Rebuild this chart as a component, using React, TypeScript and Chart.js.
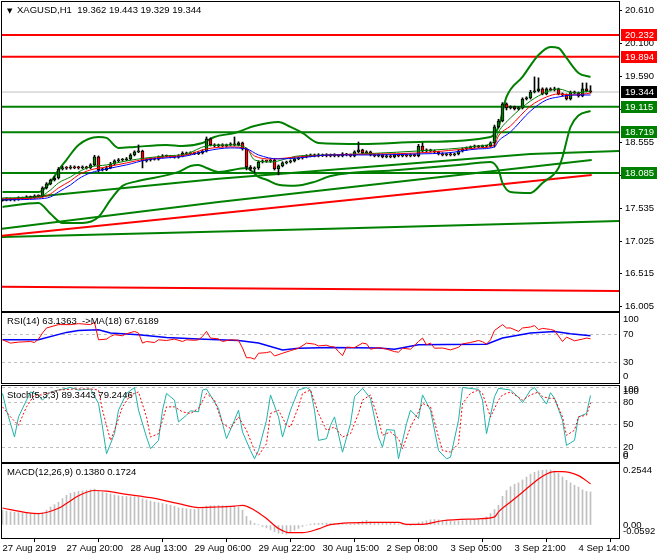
import React, { useEffect, useRef } from "react";
import { Chart, registerables } from "chart.js";

Chart.register(...registerables);

const FONT_FAMILY = '"Liberation Sans", Arial, sans-serif';
const FONT_SIZE = 9.5;
Chart.defaults.font.family = FONT_FAMILY;
Chart.defaults.font.size = FONT_SIZE;
Chart.defaults.color = "#000";

const X_MIN = -0.125;
const X_MAX = 154.125;

const GREEN = "#008000";
const RED = "#FF0000";
const BLUE = "#0000FF";
const SILVER = "#C0C0C0";
const TEAL = "#20B2AA";

// ---------- time axis ----------
const timeTickBars = [0, 16, 32, 48, 64, 80, 96, 112, 128, 144];
const timeTickLabels = ["27 Aug 2019", "27 Aug 20:00", "28 Aug 13:00", "29 Aug 06:00", "29 Aug 22:00", "30 Aug 15:00", "2 Sep 08:00", "3 Sep 05:00", "3 Sep 21:00", "4 Sep 14:00"];

// ---------- price axis ----------
const PRICE_MIN = 15.937;
const PRICE_MAX = 20.745;
const priceTicks = [20.61, 20.1, 19.59, 19.075, 18.555, 18.045, 17.535, 17.025, 16.515, 16.005];

const resistanceLevels = [20.232, 19.894];
const supportLevels = [19.115, 18.719, 18.085];
const lastPrice = 19.344;

// ---------- candles (XAGUSD H1) ----------
const opens = [
  17.660, 17.665, 17.681, 17.665, 17.672, 17.696, 17.690, 17.712, 17.700, 17.727,
  17.725, 17.852, 17.914, 17.976, 18.007, 18.147, 18.163, 18.160, 18.178, 18.165,
  18.163, 18.175, 18.163, 18.210, 18.334, 18.132, 18.135, 18.163, 18.225, 18.272,
  18.287, 18.290, 18.303, 18.365, 18.412, 18.427, 18.272, 18.287, 18.303, 18.300,
  18.334, 18.350, 18.345, 18.334, 18.330, 18.350, 18.396, 18.381, 18.396, 18.385,
  18.396, 18.427, 18.614, 18.521, 18.505, 18.521, 18.505, 18.521, 18.536, 18.521,
  18.552, 18.458, 18.178, 18.147, 18.163, 18.256, 18.272, 18.268, 18.287, 18.147,
  18.194, 18.241, 18.256, 18.272, 18.303, 18.318, 18.334, 18.350, 18.365, 18.350,
  18.365, 18.352, 18.365, 18.350, 18.365, 18.350, 18.381, 18.365, 18.350, 18.412,
  18.443, 18.396, 18.412, 18.365, 18.350, 18.365, 18.334, 18.350, 18.334, 18.365,
  18.350, 18.365, 18.350, 18.365, 18.355, 18.505, 18.427, 18.443, 18.427, 18.412,
  18.381, 18.365, 18.381, 18.365, 18.381, 18.427, 18.458, 18.474, 18.490, 18.505,
  18.490, 18.505, 18.500, 18.552, 18.801, 18.894, 19.159, 19.096, 19.112, 19.081,
  19.096, 19.236, 19.252, 19.345, 19.361, 19.392, 19.314, 19.392, 19.376, 19.392,
  19.314, 19.299, 19.236, 19.345, 19.330, 19.283, 19.392, 19.362,
];
const highs = [
  17.685, 17.700, 17.695, 17.690, 17.715, 17.710, 17.730, 17.725, 17.745, 17.745,
  17.870, 17.935, 17.990, 18.030, 18.170, 18.190, 18.185, 18.200, 18.195, 18.190,
  18.195, 18.190, 18.230, 18.360, 18.350, 18.160, 18.190, 18.250, 18.290, 18.310,
  18.310, 18.325, 18.385, 18.430, 18.521, 18.440, 18.310, 18.325, 18.320, 18.350,
  18.370, 18.365, 18.360, 18.350, 18.370, 18.415, 18.410, 18.415, 18.410, 18.415,
  18.445, 18.645, 18.630, 18.540, 18.535, 18.540, 18.535, 18.555, 18.645, 18.570,
  18.565, 18.470, 18.200, 18.180, 18.275, 18.290, 18.285, 18.300, 18.300, 18.210,
  18.260, 18.270, 18.290, 18.320, 18.335, 18.350, 18.370, 18.380, 18.380, 18.385,
  18.380, 18.385, 18.380, 18.385, 18.375, 18.400, 18.390, 18.380, 18.430, 18.567,
  18.455, 18.430, 18.425, 18.380, 18.385, 18.380, 18.370, 18.365, 18.380, 18.380,
  18.380, 18.375, 18.380, 18.375, 18.530, 18.550, 18.460, 18.455, 18.440, 18.425,
  18.400, 18.395, 18.400, 18.395, 18.440, 18.475, 18.490, 18.505, 18.520, 18.515,
  18.520, 18.515, 18.570, 18.830, 18.920, 19.180, 19.175, 19.130, 19.125, 19.115,
  19.255, 19.270, 19.370, 19.580, 19.565, 19.410, 19.410, 19.410, 19.420, 19.405,
  19.330, 19.315, 19.360, 19.360, 19.345, 19.485, 19.485, 19.443,
];
const lows = [
  17.645, 17.650, 17.650, 17.648, 17.660, 17.675, 17.680, 17.685, 17.690, 17.710,
  17.710, 17.835, 17.900, 17.960, 17.990, 18.130, 18.140, 18.145, 18.150, 18.145,
  18.150, 18.145, 18.150, 18.195, 18.100, 18.115, 18.120, 18.150, 18.210, 18.255,
  18.270, 18.275, 18.290, 18.350, 18.400, 18.163, 18.255, 18.270, 18.285, 18.285,
  18.320, 18.330, 18.320, 18.315, 18.315, 18.335, 18.365, 18.370, 18.370, 18.370,
  18.380, 18.410, 18.505, 18.490, 18.490, 18.490, 18.490, 18.505, 18.505, 18.505,
  18.440, 18.132, 18.120, 18.086, 18.140, 18.240, 18.250, 18.250, 18.130, 18.055,
  18.180, 18.225, 18.240, 18.255, 18.290, 18.300, 18.320, 18.335, 18.335, 18.335,
  18.340, 18.335, 18.335, 18.335, 18.335, 18.335, 18.350, 18.335, 18.335, 18.400,
  18.380, 18.380, 18.350, 18.335, 18.335, 18.320, 18.320, 18.320, 18.320, 18.335,
  18.335, 18.335, 18.335, 18.340, 18.335, 18.410, 18.410, 18.410, 18.395, 18.365,
  18.350, 18.350, 18.350, 18.350, 18.365, 18.410, 18.440, 18.460, 18.475, 18.475,
  18.475, 18.485, 18.485, 18.490, 18.785, 18.880, 19.065, 19.080, 19.065, 19.065,
  19.080, 19.220, 19.235, 19.330, 19.345, 19.300, 19.300, 19.360, 19.360, 19.300,
  19.280, 19.221, 19.220, 19.315, 19.265, 19.270, 19.345, 19.329,
];
const closes = [
  17.665, 17.681, 17.665, 17.672, 17.696, 17.690, 17.712, 17.700, 17.727, 17.725,
  17.852, 17.914, 17.976, 18.007, 18.147, 18.163, 18.160, 18.178, 18.165, 18.163,
  18.175, 18.163, 18.210, 18.334, 18.132, 18.135, 18.163, 18.225, 18.272, 18.287,
  18.290, 18.303, 18.365, 18.412, 18.427, 18.272, 18.287, 18.303, 18.300, 18.334,
  18.350, 18.345, 18.334, 18.330, 18.350, 18.396, 18.381, 18.396, 18.385, 18.396,
  18.427, 18.614, 18.521, 18.505, 18.521, 18.505, 18.521, 18.536, 18.521, 18.552,
  18.458, 18.178, 18.147, 18.163, 18.256, 18.272, 18.268, 18.287, 18.147, 18.194,
  18.241, 18.256, 18.272, 18.303, 18.318, 18.334, 18.350, 18.365, 18.350, 18.365,
  18.352, 18.365, 18.350, 18.365, 18.350, 18.381, 18.365, 18.350, 18.412, 18.443,
  18.396, 18.412, 18.365, 18.350, 18.365, 18.334, 18.350, 18.334, 18.365, 18.350,
  18.365, 18.350, 18.365, 18.355, 18.505, 18.427, 18.443, 18.427, 18.412, 18.381,
  18.365, 18.381, 18.365, 18.381, 18.427, 18.458, 18.474, 18.490, 18.505, 18.490,
  18.505, 18.500, 18.552, 18.801, 18.894, 19.159, 19.096, 19.112, 19.081, 19.096,
  19.236, 19.252, 19.345, 19.361, 19.392, 19.314, 19.392, 19.376, 19.392, 19.314,
  19.299, 19.236, 19.345, 19.330, 19.283, 19.392, 19.362, 19.344,
];

// ---------- overlays: [bar, price] ----------
const bbUpper = [[0, 17.787], [9, 17.787], [12, 17.945], [14, 18.13], [16, 18.29], [19, 18.521], [24, 18.645], [26, 18.63], [29, 18.474], [33, 18.49], [41, 18.521], [45, 18.505], [50, 18.552], [53, 18.645], [58, 18.707], [63, 18.816], [69, 18.879], [72, 18.801], [75, 18.707], [79, 18.552], [90, 18.536], [104, 18.567], [122, 18.645], [124, 18.801], [126, 19.267], [130, 19.579], [134, 19.921], [137, 20.046], [139, 20.03], [141, 19.874], [144, 19.641], [147, 19.579]];
const bbLower = [[0, 17.557], [9, 17.619], [12, 17.45], [15, 17.308], [20, 17.308], [24, 17.401], [27, 17.666], [30, 17.884], [33, 17.946], [44, 18.101], [47, 18.194], [49, 18.21], [51, 18.163], [54, 18.101], [61, 18.163], [64, 18.023], [66, 17.98], [69, 17.9], [73, 17.884], [78, 17.946], [82, 18.039], [99, 18.132], [114, 18.21], [122, 18.256], [124, 18.132], [125, 17.93], [127, 17.79], [132, 17.775], [135, 17.93], [139, 18.163], [140, 18.334], [142, 18.8], [144, 18.98], [147, 19.049]];
const maFast = [[0, 17.697], [9, 17.712], [12, 17.821], [14, 17.93], [17, 18.023], [19, 18.101], [22, 18.179], [26, 18.21], [31, 18.272], [36, 18.319], [41, 18.35], [46, 18.381], [51, 18.505], [57, 18.521], [61, 18.474], [63, 18.288], [67, 18.256], [74, 18.35], [82, 18.365], [104, 18.428], [119, 18.505], [123, 18.583], [124, 18.723], [127, 18.941], [132, 19.205], [136, 19.345], [139, 19.392], [143, 19.329], [147, 19.361]];
const maMid = [[0, 17.681], [9, 17.697], [12, 17.759], [14, 17.852], [17, 17.962], [19, 18.055], [22, 18.132], [26, 18.179], [31, 18.241], [36, 18.303], [41, 18.334], [46, 18.365], [51, 18.459], [57, 18.49], [61, 18.459], [63, 18.35], [67, 18.303], [74, 18.334], [82, 18.365], [104, 18.396], [119, 18.474], [123, 18.521], [124, 18.661], [127, 18.816], [132, 19.127], [136, 19.267], [139, 19.314], [143, 19.298], [147, 19.329]];
const maSlow = [[0, 17.666], [9, 17.681], [12, 17.712], [14, 17.79], [17, 17.899], [19, 17.993], [22, 18.086], [26, 18.148], [31, 18.21], [36, 18.288], [41, 18.319], [46, 18.35], [51, 18.428], [57, 18.474], [61, 18.459], [64, 18.365], [69, 18.303], [74, 18.319], [82, 18.365], [92, 18.365], [104, 18.381], [111, 18.396], [119, 18.459], [123, 18.49], [124, 18.583], [127, 18.723], [132, 19.049], [136, 19.221], [139, 19.267], [143, 19.298], [147, 19.298]];
const trendGreenA = [[X_MIN, 17.666], [54, 17.993], [132, 18.381], [X_MAX, 18.428]];
const trendGreenB = [[X_MIN, 17.215], [54, 17.634], [147.3, 18.288]];
const trendRedA = [[X_MIN, 17.106], [147.3, 18.055]];
const trendGreenC = [[X_MIN, 17.09], [82, 17.215], [X_MAX, 17.339]];
const trendRedB = [[X_MIN, 16.315], [X_MAX, 16.25]];

// ---------- RSI ----------
const rsiLine = [[0, 61.7], [2, 57], [4, 58.4], [7, 59.3], [8, 57.8], [9, 62.7], [10, 71.4], [11, 78.6], [14, 83.4], [17, 83.4], [19, 84.8], [22, 83.4], [23, 86.7], [24, 61.7], [26, 62.7], [27, 66.5], [28, 69], [30, 67.5], [31, 70.4], [33, 73.7], [34, 71.4], [35, 57], [36, 59.3], [38, 57.8], [39, 61.7], [41, 60.7], [43, 62.7], [45, 59.3], [46, 61.7], [48, 61], [49, 61.7], [50, 66.5], [51, 73.7], [52, 64.2], [54, 63], [55, 59.3], [57, 61.7], [59, 61], [60, 50], [61, 36], [62, 36.2], [63, 34], [64, 42.5], [66, 43.4], [67, 44.8], [68, 38.6], [70, 42.5], [72, 46.2], [74, 49.7], [76, 57], [78, 55.5], [79, 53], [81, 54], [82, 52], [83, 51.5], [84, 44.8], [85, 39], [86, 51.2], [88, 50.5], [90, 57], [91, 56], [92, 48.3], [94, 50.6], [96, 48.5], [98, 44.8], [99, 44], [100, 49.7], [102, 48.3], [104, 59.3], [105, 64.2], [106, 54.5], [107, 57], [108, 49.7], [110, 50], [112, 47.3], [114, 51], [115, 55.9], [117, 57.8], [119, 60.7], [120, 59], [121, 55.5], [122, 61.7], [123, 75.1], [125, 83.4], [126, 78.6], [127, 78.6], [129, 73.7], [130, 78.6], [132, 80], [133, 82], [134, 76.2], [135, 78], [137, 76.5], [138, 75], [140, 59.3], [141, 65.6], [143, 60.3], [145, 62.7], [146, 64.2], [147, 63.1]];
const rsiMa = [[0, 61.7], [9, 61.7], [16, 72.3], [19, 75.1], [24, 76.2], [27, 71.4], [34, 69], [41, 65], [49, 62.7], [59, 60.7], [64, 57], [70, 47.3], [74, 49.7], [82, 50.6], [94, 50], [98, 48.3], [104, 54.5], [111, 55], [121, 55.5], [125, 64.2], [132, 71.4], [138, 73.7], [142, 70.4], [147, 67.6]];
const rsiTickValues = [9, 30, 70, 91];
const rsiTickLabels = ["0", "30", "70", "100"];
const rsiLevels = [30, 70];

// ---------- Stochastic ----------
const stochMain = [[0, 92], [1, 69.6], [3, 33.5], [4, 60.5], [6, 83], [7, 94], [9, 90], [10, 83], [12, 94], [14, 96.6], [17, 100], [19, 96.6], [22, 98], [24, 78.6], [25, 47], [26, 11], [28, 38], [29, 69.6], [31, 92], [33, 100], [34, 69.6], [36, 33.5], [37, 17.8], [39, 29], [40, 69.6], [41, 92], [43, 83], [44, 53.8], [46, 62.8], [47, 68.7], [49, 67.3], [50, 96.6], [51, 98], [54, 71.9], [56, 31.3], [58, 56], [59, 69.6], [60, 40.3], [62, 15.5], [63, 4.3], [64, 15.5], [66, 56], [67, 90], [69, 60.5], [70, 33.5], [72, 69.6], [74, 96.6], [76, 100], [77, 96.6], [78, 69.6], [79, 29], [81, 31.3], [82, 49.3], [83, 60.5], [85, 13.2], [87, 51.6], [88, 87.6], [90, 98.9], [92, 85.4], [94, 33.5], [95, 20], [96, 43.5], [98, 42.6], [99, 4.3], [101, 51.6], [102, 69.6], [104, 58.4], [105, 90], [107, 69.6], [109, 15.5], [111, 4.3], [112, 6.5], [114, 56], [115, 100], [119, 97.5], [120, 83], [121, 38], [123, 87.6], [124, 98.9], [127, 96.6], [129, 86.8], [130, 79.5], [132, 96.6], [133, 100], [134, 92], [136, 77.7], [137, 93], [138, 85.4], [140, 56], [141, 22.3], [143, 29], [144, 60.5], [146, 65.1], [147, 89.3]];
const stochSignal = [[0, 74], [2, 60.5], [4, 49.3], [6, 74], [8, 90], [10, 90], [14, 96.6], [18, 98], [22, 98], [24, 96.6], [25, 69.6], [27, 29], [28, 42.6], [30, 74], [32, 90], [34, 94], [36, 60.5], [37, 33.5], [39, 38], [41, 74], [43, 74], [45, 67.3], [47, 65.1], [49, 71.9], [51, 92], [53, 83], [55, 51.6], [57, 45], [59, 60.5], [61, 42.6], [63, 15.5], [64, 8.8], [66, 24.5], [67, 65.1], [69, 69.6], [71, 49.3], [72, 47], [74, 74], [75, 92], [77, 96.6], [79, 65.1], [81, 42.6], [83, 47], [85, 33.5], [87, 38], [89, 65.1], [90, 83], [92, 90], [94, 56], [95, 35.8], [97, 40.3], [99, 31.3], [100, 17.8], [102, 47], [104, 67.3], [105, 78.6], [107, 74], [109, 33.5], [110, 15.5], [112, 13.3], [114, 24.5], [115, 78.6], [117, 92], [119, 96.6], [120, 92], [122, 60.5], [124, 83], [125, 90], [127, 94], [129, 86.8], [130, 83], [132, 90], [134, 94], [135, 87.6], [137, 85.4], [138, 85.4], [140, 60.5], [141, 35.8], [143, 42.6], [144, 60.5], [146, 62.8], [147, 79.2]];
const stochTickValues = [7, 10, 20, 50, 80, 95, 98, 100];
const stochTickLabels = ["0", "0", "20", "50", "80", "100", "100", ""];
const stochLevels = [20, 50, 80, 100];

// ---------- MACD ----------
const macdHist = [
  0.062, 0.058, 0.055, 0.053, 0.052, 0.050, 0.050, 0.049, 0.049, 0.050,
  0.052, 0.062, 0.075, 0.085, 0.095, 0.110, 0.124, 0.132, 0.137, 0.140,
  0.142, 0.145, 0.147, 0.150, 0.140, 0.136, 0.133, 0.130, 0.126, 0.122,
  0.120, 0.119, 0.118, 0.118, 0.117, 0.110, 0.105, 0.100, 0.096, 0.093,
  0.090, 0.086, 0.083, 0.078, 0.072, 0.070, 0.068, 0.066, 0.065, 0.066,
  0.068, 0.079, 0.080, 0.081, 0.082, 0.081, 0.080, 0.079, 0.078, 0.075,
  0.062, 0.036, 0.018, 0.007, 0.002, -0.006, -0.012, -0.020, -0.028, -0.034,
  -0.036, -0.038, -0.030, -0.022, -0.014, -0.006, 0.000, 0.004, 0.006, 0.007,
  0.007, 0.008, 0.007, 0.007, 0.005, 0.002, 0.002, 0.003, 0.004, 0.012,
  0.016, 0.020, 0.014, 0.012, 0.011, 0.010, 0.010, 0.009, 0.008, 0.004,
  0.001, 0.000, -0.001, 0.000, 0.010, 0.014, 0.018, 0.022, 0.023, 0.022,
  0.020, 0.017, 0.015, 0.015, 0.017, 0.018, 0.020, 0.022, 0.023, 0.024,
  0.028, 0.034, 0.048, 0.065, 0.082, 0.120, 0.144, 0.160, 0.170, 0.176,
  0.188, 0.200, 0.212, 0.220, 0.226, 0.228, 0.230, 0.230, 0.225, 0.215,
  0.200, 0.186, 0.176, 0.166, 0.158, 0.147, 0.140, 0.138,
];
const macdSignal = [[0, 0.071], [6, 0.052], [9, 0.048], [14, 0.07], [16, 0.09], [19, 0.122], [23, 0.144], [26, 0.141], [31, 0.128], [37, 0.114], [44, 0.089], [49, 0.073], [53, 0.075], [58, 0.079], [60, 0.082], [63, 0.062], [66, 0.027], [69, -0.014], [72, -0.032], [75, -0.032], [79, -0.016], [82, 0.002], [93, 0.011], [99, 0.011], [101, 0.003], [105, 0.003], [110, 0.018], [119, 0.026], [123, 0.034], [124, 0.055], [127, 0.096], [130, 0.137], [134, 0.192], [136, 0.213], [138, 0.223], [140, 0.223], [144, 0.206], [147, 0.172]];
const MACD_MIN = -0.054;
const MACD_MAX = 0.2544;
const macdTickValues = [-0.028, 0, 0.2265];
const macdTickLabels = ["-0.0592", "0.00", "0.2544"];

// ---------- helpers ----------
const pts = (a: number[][]) => a.map(([x, y]) => ({ x, y }));
const hLine = (v: number) => [{ x: X_MIN, y: v }, { x: X_MAX, y: v }];
const line = (data: any[], color: string, width: number, order: number, extra: any = {}) => ({
  type: "line", data, borderColor: color, backgroundColor: color, borderWidth: width,
  pointRadius: 0, pointHoverRadius: 0, fill: false, tension: 0, order, ...extra,
});
const noPad = (s: any) => { s.paddingTop = 0; s.paddingBottom = 0; s.paddingLeft = 0; s.paddingRight = 0; };

const framePlugin = {
  id: "frame",
  afterDraw(chart: any) {
    const { ctx, chartArea: a } = chart;
    ctx.save();
    ctx.strokeStyle = "#000";
    ctx.lineWidth = 1;
    ctx.strokeRect(Math.round(a.left) - 0.5, Math.round(a.top) - 0.5, Math.round(a.right - a.left) + 1, Math.round(a.bottom - a.top) + 1);
    ctx.restore();
  },
};

const panelTitlePlugin = {
  id: "panelTitle",
  afterDatasetsDraw(chart: any, _args: any, opts: any) {
    if (!opts || !opts.text) return;
    const { ctx, chartArea } = chart;
    ctx.save();
    ctx.textBaseline = "middle";
    ctx.textAlign = "left";
    ctx.fillStyle = "#000";
    const y = chartArea.top + opts.dy;
    let x = chartArea.left + 5;
    if (opts.marker) {
      ctx.font = `7px "DejaVu Sans", sans-serif`;
      ctx.fillText(opts.marker, x, y);
      x += 10;
    }
    ctx.font = `${FONT_SIZE}px ${FONT_FAMILY}`;
    ctx.fillText(opts.text, x, y);
    ctx.restore();
  },
};

const priceBoxPlugin = {
  id: "priceBoxes",
  afterDraw(chart: any, _args: any, opts: any) {
    if (!opts || !opts.items) return;
    const scale = chart.scales.y;
    const { ctx } = chart;
    ctx.save();
    ctx.font = `${FONT_SIZE}px ${FONT_FAMILY}`;
    ctx.textBaseline = "middle";
    ctx.textAlign = "left";
    for (const it of opts.items) {
      const py = Math.round(scale.getPixelForValue(it.value));
      ctx.fillStyle = it.bg;
      ctx.fillRect(scale.left + 2, py - 6, 36, 12);
      ctx.fillStyle = it.fg;
      ctx.fillText(it.value.toFixed(3), scale.left + 6, py + 0.5);
    }
    ctx.restore();
  },
};

const xScale = (display: boolean) => ({
  type: "linear",
  min: X_MIN,
  max: X_MAX,
  offset: false,
  display,
  grid: { display: true, drawOnChartArea: false, drawTicks: true, tickLength: 4, tickColor: "#000", color: "#000" },
  border: { display: false },
  ticks: {
    autoSkip: false, maxRotation: 0, minRotation: 0, align: "start", padding: 1, color: "#000",
    callback: (_v: any, i: number) => timeTickLabels[i],
  },
  afterBuildTicks: (s: any) => { s.ticks = timeTickBars.map((v) => ({ value: v })); },
  afterFit: (s: any) => { if (display) s.height = 22; noPad(s); },
});

const subYScale = (min: number, max: number, values: number[], labels: string[], levels: number[]) => ({
  type: "linear",
  position: "right",
  min, max,
  grid: {
    display: true, drawOnChartArea: true, drawTicks: false,
    color: (c: any) => (c.tick && levels.includes(c.tick.value) ? SILVER : "rgba(0,0,0,0)"),
    lineWidth: 1,
  },
  border: { display: false, dash: [3, 3] },
  ticks: { autoSkip: false, padding: 4, color: "#000", callback: (_v: any, i: number) => labels[i] },
  afterBuildTicks: (s: any) => { s.ticks = values.map((v) => ({ value: v })); },
  afterFit: (s: any) => { s.width = 41; noPad(s); },
});

const baseOptions = (padTop: number, padBottom: number) => ({
  responsive: false,
  animation: false,
  events: [],
  layout: { padding: { left: 2, right: 0, top: padTop, bottom: padBottom } },
  plugins: { legend: { display: false }, tooltip: { enabled: false } },
});

function mainConfig(): any {
  const idx = closes.map((_, i) => i);
  const datasets: any[] = [
    ...resistanceLevels.map((v) => line(hLine(v), RED, 2, 20)),
    ...supportLevels.map((v) => line(hLine(v), GREEN, 2, 20)),
    line(hLine(lastPrice), SILVER, 1, 21),
    line(pts(trendGreenA), GREEN, 2, 19),
    line(pts(trendGreenB), GREEN, 2, 19),
    line(pts(trendRedA), RED, 2, 19),
    line(pts(trendGreenC), GREEN, 2, 19),
    line(pts(trendRedB), RED, 2, 19),
    line(pts(bbUpper), GREEN, 2, 18, { cubicInterpolationMode: "monotone" }),
    line(pts(bbLower), GREEN, 2, 18, { cubicInterpolationMode: "monotone" }),
    {
      type: "bar", order: 10, grouped: false, barThickness: 1,
      data: idx.map((i) => ({ x: i, y: [lows[i], highs[i]] })),
      backgroundColor: "#000", borderWidth: 0,
    },
    {
      type: "bar", order: 9, grouped: false, barThickness: 3, minBarLength: 1,
      data: idx.map((i) => ({ x: i, y: [opens[i], closes[i]] })),
      backgroundColor: idx.map((i) => (closes[i] >= opens[i] ? GREEN : RED)),
      borderColor: "#000", borderWidth: 1, borderSkipped: false,
    },
    line(pts(maSlow), BLUE, 1, 2, { cubicInterpolationMode: "monotone" }),
    line(pts(maMid), RED, 1, 2, { cubicInterpolationMode: "monotone" }),
    line(pts(maFast), GREEN, 1, 2, { cubicInterpolationMode: "monotone" }),
  ];
  const opts: any = baseOptions(2, 2);
  opts.plugins.panelTitle = { text: "XAGUSD,H1  19.362 19.443 19.329 19.344", dy: 8.7, marker: "▼" };
  opts.plugins.priceBoxes = {
    items: [
      ...resistanceLevels.map((v) => ({ value: v, bg: RED, fg: "#fff" })),
      { value: lastPrice, bg: "#000", fg: "#fff" },
      ...supportLevels.map((v) => ({ value: v, bg: GREEN, fg: "#fff" })),
    ],
  };
  opts.scales = {
    x: xScale(false),
    y: {
      type: "linear", position: "right", min: PRICE_MIN, max: PRICE_MAX,
      grid: { display: true, drawOnChartArea: false, drawTicks: true, tickLength: 3, tickColor: "#000", color: "#000" },
      border: { display: false },
      ticks: { autoSkip: false, padding: 3, color: "#000", callback: (v: number) => v.toFixed(3) },
      afterBuildTicks: (s: any) => { s.ticks = priceTicks.map((v) => ({ value: v })); },
      afterFit: (s: any) => { s.width = 41; noPad(s); },
    },
  };
  return { type: "bar", data: { datasets }, options: opts, plugins: [framePlugin, panelTitlePlugin, priceBoxPlugin] };
}

function rsiConfig(): any {
  const opts: any = baseOptions(1, 1);
  opts.plugins.panelTitle = { text: "RSI(14) 63.1363  ->MA(18) 67.6189", dy: 8.7 };
  opts.scales = { x: xScale(false), y: subYScale(0, 100, rsiTickValues, rsiTickLabels, rsiLevels) };
  return {
    type: "line",
    data: { datasets: [line(pts(rsiMa), BLUE, 1.5, 2), line(pts(rsiLine), RED, 1, 1)] },
    options: opts,
    plugins: [framePlugin, panelTitlePlugin],
  };
}

function stochConfig(): any {
  const opts: any = baseOptions(1, 1);
  opts.plugins.panelTitle = { text: "Stoch(5,3,3) 89.3443 79.2446", dy: 9 };
  opts.scales = { x: xScale(false), y: subYScale(0, 102, stochTickValues, stochTickLabels, stochLevels) };
  return {
    type: "line",
    data: { datasets: [line(pts(stochMain), TEAL, 1, 2), line(pts(stochSignal), RED, 1, 1, { borderDash: [2, 2] })] },
    options: opts,
    plugins: [framePlugin, panelTitlePlugin],
  };
}

function macdConfig(): any {
  const opts: any = baseOptions(1, 0);
  opts.plugins.panelTitle = { text: "MACD(12,26,9) 0.1380 0.1724", dy: 8.7 };
  const y: any = subYScale(MACD_MIN, MACD_MAX, macdTickValues, macdTickLabels, []);
  opts.scales = { x: xScale(true), y };
  return {
    type: "bar",
    data: {
      datasets: [
        {
          type: "bar", order: 2, grouped: false, barThickness: 1,
          data: macdHist.map((v, i) => ({ x: i, y: v })),
          backgroundColor: SILVER, borderWidth: 0,
        },
        line(pts(macdSignal), RED, 1.2, 1, { cubicInterpolationMode: "monotone" }),
      ],
    },
    options: opts,
    plugins: [framePlugin, panelTitlePlugin],
  };
}

export default function App() {
  const mainRef = useRef<HTMLCanvasElement>(null);
  const rsiRef = useRef<HTMLCanvasElement>(null);
  const stochRef = useRef<HTMLCanvasElement>(null);
  const macdRef = useRef<HTMLCanvasElement>(null);

  useEffect(() => {
    const charts: Chart[] = [];
    charts.push(new Chart(mainRef.current as HTMLCanvasElement, mainConfig()));
    charts.push(new Chart(rsiRef.current as HTMLCanvasElement, rsiConfig()));
    charts.push(new Chart(stochRef.current as HTMLCanvasElement, stochConfig()));
    charts.push(new Chart(macdRef.current as HTMLCanvasElement, macdConfig()));
    return () => charts.forEach((c) => c.destroy());
  }, []);

  const cv = (top: number): React.CSSProperties => ({ position: "absolute", left: 0, top, display: "block" });
  return (
    <div style={{ position: "absolute", left: 0, top: 0, width: 660, height: 560, background: "#fff", overflow: "hidden" }}>
      <canvas ref={mainRef} width={660} height={313} style={cv(0)} />
      <canvas ref={rsiRef} width={660} height={72} style={cv(312)} />
      <canvas ref={stochRef} width={660} height={78} style={cv(385)} />
      <canvas ref={macdRef} width={660} height={97} style={cv(463)} />
    </div>
  );
}
